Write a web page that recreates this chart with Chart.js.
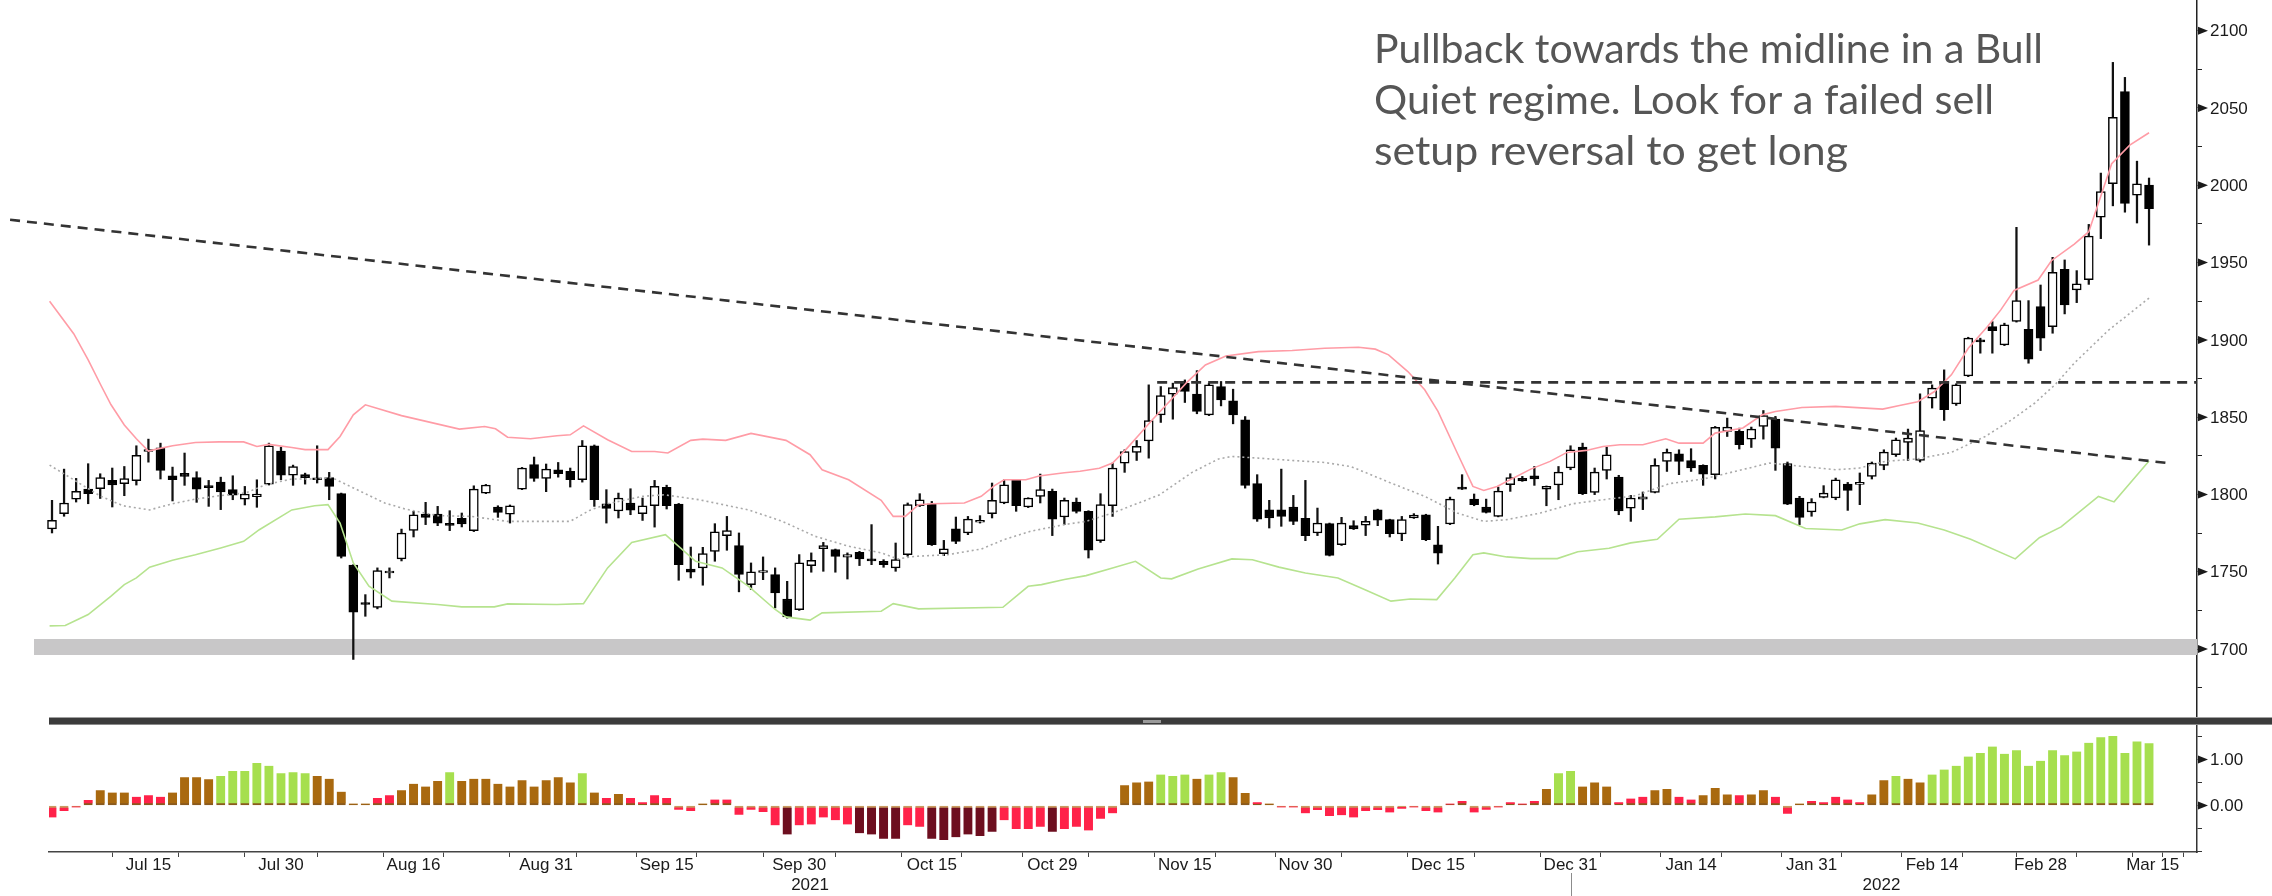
<!DOCTYPE html>
<html>
<head>
<meta charset="utf-8">
<script src="https://cdn.jsdelivr.net/npm/chart.js@4.4.1/dist/chart.umd.min.js"></script>
<style>
  html, body { margin: 0; padding: 0; background: #fff; }
  #wrap { position: relative; width: 2272px; height: 896px; overflow: hidden; background: #fff; }
  #main { position: absolute; left: 0; top: 0; }
  #osc { position: absolute; left: 0; top: 724px; }
  #sep { position: absolute; left: 49px; top: 717px; width: 2223px; height: 8px; background: #3b3b3b;
         border-top: 1px solid #a0a0a0; border-bottom: 1px solid #8a8a8a; box-sizing: border-box; }
  #grip { position: absolute; left: 1143px; top: 720px; width: 18px; height: 3px; background: #9a9a9a; }
</style>
</head>
<body>
<div id="wrap">
  <canvas id="main" width="2272" height="718"></canvas>
  <canvas id="osc" width="2272" height="172"></canvas>
  <div id="sep"></div>
  <div id="grip"></div>
</div>
<script>
// daily candles, one per trading day (Jul 2021 - Mar 2022)
const opens = [
  1777.7,1787.6,1797.0,1803.5,1803.7,1809.1,1807.0,1808.9,1827.8,1830.2,
  1812.1,1813.6,1811.0,1805.6,1808.0,1803.1,1797.0,1798.5,1806.7,1828.1,
  1812.5,1812.8,1810.4,1811.0,1800.5,1754.4,1729.2,1727.0,1749.2,1758.3,
  1776.8,1787.3,1787.3,1780.5,1784.6,1776.6,1800.9,1791.9,1787.3,1803.5,
  1819.4,1810.4,1816.0,1814.9,1809.5,1831.5,1794.0,1789.3,1794.5,1787.6,
  1792.7,1804.6,1793.8,1751.8,1752.5,1763.2,1773.4,1766.9,1741.7,1749.5,
  1748.2,1732.4,1725.5,1754.0,1764.9,1764.3,1759.4,1762.6,1757.4,1756.8,
  1752.5,1761.1,1792.7,1794.0,1761.7,1777.7,1775.1,1782.0,1787.6,1794.5,
  1809.1,1791.9,1798.8,1802.0,1785.4,1795.1,1789.1,1770.1,1792.7,1820.3,
  1827.2,1834.7,1851.5,1864.9,1872.0,1864.9,1851.5,1869.8,1860.6,1848.3,
  1807.0,1790.1,1790.1,1791.9,1784.6,1775.1,1781.1,1767.5,1779.8,1780.2,
  1790.1,1783.7,1774.4,1784.8,1786.9,1767.5,1780.9,1804.4,1797.0,1791.9,
  1785.8,1806.3,1810.4,1812.1,1803.5,1806.1,1817.1,1830.6,1801.4,1815.6,
  1811.3,1791.2,1797.0,1801.4,1821.4,1826.3,1822.0,1818.8,1812.8,1840.8,
  1840.8,1835.8,1844.0,1848.7,1819.9,1797.7,1788.7,1798.1,1797.7,1806.7,
  1806.5,1811.7,1818.8,1825.7,1833.7,1822.0,1862.3,1873.1,1858.6,1876.7,
  1899.5,1908.6,1896.8,1912.0,1906.9,1921.5,1908.6,1945.6,1932.3,1938.9,
  1979.3,2001.0,2060.6,1993.6,2000.1
];
const highs = [
  1796.2,1816.4,1810.4,1819.9,1813.4,1817.1,1818.1,1831.5,1835.8,1833.2,
  1817.7,1826.8,1814.7,1809.1,1811.2,1812.1,1805.2,1809.5,1833.2,1830.6,
  1819.0,1813.8,1831.5,1814.3,1800.9,1754.6,1735.2,1752.5,1752.5,1777.6,
  1789.1,1794.9,1792.3,1789.5,1788.0,1805.6,1806.5,1792.7,1793.2,1817.5,
  1824.2,1819.7,1820.7,1817.1,1834.9,1832.0,1803.1,1800.9,1803.7,1797.7,
  1809.1,1806.0,1794.2,1766.0,1765.8,1781.1,1785.8,1775.1,1755.7,1759.6,
  1752.5,1743.8,1761.1,1762.2,1769.0,1764.7,1762.2,1763.2,1780.5,1757.8,
  1768.6,1794.5,1800.5,1795.5,1770.3,1785.4,1785.8,1786.3,1807.4,1809.5,
  1809.5,1797.9,1813.2,1803.5,1797.7,1797.7,1789.5,1800.5,1820.3,1828.9,
  1834.9,1870.9,1869.8,1872.0,1874.1,1880.1,1872.0,1873.1,1868.1,1850.4,
  1812.8,1796.2,1816.4,1799.4,1809.1,1791.2,1781.5,1785.2,1783.0,1785.8,
  1790.5,1784.0,1785.8,1787.6,1787.2,1779.4,1798.3,1812.8,1800.3,1797.0,
  1804.8,1813.4,1811.7,1818.1,1805.5,1818.1,1831.5,1833.2,1817.1,1830.6,
  1812.4,1799.4,1801.6,1823.1,1829.4,1828.9,1829.6,1819.2,1844.0,1849.4,
  1842.9,1843.6,1854.3,1850.5,1821.0,1798.8,1797.3,1805.7,1810.6,1807.8,
  1813.9,1821.0,1828.9,1836.5,1842.3,1865.1,1870.9,1880.6,1871.6,1901.7,
  1901.1,1911.8,1910.8,1972.8,1925.4,1935.5,1953.4,1951.7,1944.8,1974.7,
  2007.9,2079.5,2069.8,2015.6,2004.7
];
const lows = [
  1775.1,1785.9,1795.1,1794.0,1797.4,1791.9,1799.2,1806.1,1820.9,1810.0,
  1795.8,1805.9,1794.9,1792.3,1790.2,1796.6,1793.2,1791.7,1806.1,1809.5,
  1805.9,1806.7,1807.4,1796.6,1758.9,1693.3,1721.2,1726.0,1746.0,1757.0,
  1772.5,1780.5,1779.8,1776.6,1779.0,1776.0,1800.5,1785.2,1781.5,1803.1,
  1808.5,1801.8,1811.2,1804.8,1808.0,1792.3,1781.5,1784.8,1786.9,1783.2,
  1778.9,1790.6,1744.5,1746.0,1741.3,1756.8,1763.9,1737.0,1738.5,1744.9,
  1726.6,1720.0,1725.0,1749.7,1750.3,1749.7,1745.3,1754.0,1754.6,1752.9,
  1750.3,1760.0,1792.2,1767.0,1760.4,1768.2,1774.0,1781.5,1784.8,1794.0,
  1789.1,1791.5,1794.5,1773.4,1780.5,1788.0,1758.9,1769.0,1785.8,1814.3,
  1822.0,1823.5,1846.6,1848.7,1859.5,1852.2,1851.0,1857.3,1845.7,1804.1,
  1782.6,1778.3,1779.4,1780.5,1770.1,1773.4,1760.2,1767.0,1777.3,1773.4,
  1779.8,1772.5,1770.1,1784.5,1770.1,1755.0,1780.5,1803.2,1792.7,1788.0,
  1785.5,1802.0,1808.5,1805.9,1792.7,1796.6,1816.0,1799.9,1799.9,1810.0,
  1786.9,1782.6,1790.2,1801.0,1814.9,1812.8,1814.9,1805.9,1810.0,1837.5,
  1829.4,1830.4,1835.8,1815.6,1793.4,1780.5,1785.9,1797.8,1796.6,1789.7,
  1793.4,1810.0,1816.0,1824.6,1822.0,1821.0,1855.9,1847.9,1857.6,1876.2,
  1891.4,1891.4,1896.3,1911.5,1884.9,1893.1,1904.3,1916.8,1924.1,1935.9,
  1965.5,1986.7,1982.6,1975.6,1961.3
];
const closes = [
  1783.3,1794.5,1802.0,1800.5,1811.0,1806.1,1810.2,1825.3,1828.9,1815.6,
  1809.5,1811.7,1803.5,1804.4,1801.6,1799.6,1800.3,1800.3,1831.5,1812.5,
  1818.1,1810.8,1809.5,1805.2,1760.0,1723.8,1728.8,1750.7,1749.7,1775.1,
  1786.9,1785.2,1781.5,1780.0,1780.9,1803.5,1806.1,1788.4,1792.7,1817.1,
  1810.4,1816.4,1813.4,1809.5,1831.5,1796.6,1791.0,1797.7,1789.9,1792.7,
  1805.2,1792.7,1754.6,1749.7,1761.7,1775.9,1776.6,1748.2,1749.9,1750.0,
  1736.3,1720.8,1755.7,1757.4,1766.9,1760.0,1761.1,1758.3,1757.0,1754.6,
  1757.8,1793.4,1796.6,1767.5,1764.9,1769.7,1784.1,1782.3,1796.2,1806.3,
  1792.7,1797.7,1803.1,1784.1,1796.2,1789.1,1763.9,1793.4,1817.1,1827.8,
  1831.1,1847.8,1864.0,1869.2,1866.6,1853.7,1870.9,1861.2,1851.5,1805.9,
  1784.1,1784.8,1785.8,1782.6,1773.4,1781.5,1760.6,1781.5,1777.7,1782.6,
  1783.3,1774.6,1783.7,1786.7,1770.8,1762.1,1797.0,1803.5,1793.4,1788.4,
  1802.2,1811.0,1808.7,1810.0,1805.2,1814.5,1828.9,1800.5,1814.5,1825.7,
  1789.3,1797.7,1798.4,1818.8,1827.2,1821.4,1817.1,1813.2,1843.4,1843.6,
  1832.2,1842.3,1851.1,1830.0,1793.8,1785.2,1795.1,1800.9,1809.5,1802.6,
  1806.9,1820.3,1827.4,1835.4,1836.5,1841.4,1868.8,1854.8,1870.9,1901.1,
  1898.7,1906.0,1909.7,1925.4,1887.5,1901.1,1943.7,1922.6,1936.2,1967.1,
  1995.9,2043.9,1988.3,2001.0,1984.9
];

// Bollinger bands: [bar, value]
const upperBand = [
  [0.8,1925],[2.8,1904],[4,1887],[5.1,1870],[5.9,1858],[7,1845],[8,1836],[9,1828],[9.5,1829],
  [11,1831.5],[12.9,1833.6],[14.9,1834],[16.9,1834],[18,1831],[19,1832.4],[20.9,1830.4],[22,1829],
  [23.9,1829],[24.9,1837.5],[26,1851.5],[27,1858],[30,1851],[34.8,1842.3],[36.9,1844],[37.8,1842.5],
  [38.8,1837],[40.7,1836],[42.9,1838],[44,1838.6],[45.1,1844.4],[47.1,1835.4],[49.1,1827.8],
  [51,1827.8],[52.1,1826.8],[54,1835],[55,1835.8],[56.9,1835],[59,1839.5],[61.9,1835],[63.9,1825.7],
  [64.9,1816],[67.1,1809.5],[69.8,1796.2],[70.8,1785.8],[71.8,1785.8],[72.9,1793.4],[74,1794],
  [76.7,1794.5],[78.1,1798.8],[79.2,1805.7],[80,1809.5],[81.8,1809.5],[82.9,1812],[85,1814],
  [86.3,1815],[87.9,1817],[89,1820.3],[90.1,1829],[91.2,1838.6],[92.3,1848.3],[93.7,1860],
  [95.1,1872],[96.7,1883.8],[98.4,1889.6],[101.1,1892.4],[103.9,1893.1],[106.6,1894.6],
  [109.4,1895.2],[110.8,1894],[111.9,1890.3],[113.5,1879.5],[114.9,1867.7],[116,1853.7],
  [117.6,1826.8],[118.9,1805.2],[119.8,1802.6],[120.9,1805.2],[123.7,1816.4],[125.3,1821.4],
  [126.7,1827.2],[128.3,1828.5],[129.7,1831],[131.1,1832.2],[133,1832.2],[134.9,1836],[136,1833.2],
  [138,1833.2],[139,1839.7],[141.3,1843],[142.9,1851.5],[144,1853.7],[146.2,1856.3],[149,1857],
  [152.9,1855.2],[154.2,1857.4],[155.8,1860],[157.2,1866.6],[158.6,1877.4],[160,1894.6],
  [161.6,1908.6],[162.7,1919.4],[163.8,1932],[165.8,1938.7],[166.9,1951.2],[168.8,1962],
  [170,1970],[171,1993],[171.9,2014],[173.4,2026],[175,2034]
];
const midBand = [
  [0.8,1819],[2.8,1809.5],[5,1799],[6.9,1792.7],[9.1,1790],[11,1794],[12.9,1797],[14.9,1799.2],
  [17.1,1801],[18.7,1806.3],[20.9,1810],[22.8,1810],[24.2,1811],[26.2,1803.5],[28.6,1794.5],
  [30.3,1790.6],[33,1786.3],[35.8,1785.8],[38.8,1782.6],[42.9,1782.6],[44,1782.6],[45.6,1789.7],
  [47.1,1794],[50,1798.8],[51.8,1799.8],[54.7,1796.6],[58.8,1790],[61.6,1782.6],[64.3,1773],
  [67.1,1766.5],[69.8,1762.2],[71.2,1758.3],[72.6,1760],[75.3,1761],[78.1,1764.7],[80,1770.8],
  [82.2,1776.2],[85,1780.5],[86.8,1782.6],[89,1788],[91.5,1795.5],[92.9,1799.8],[95.6,1814.3],
  [97.8,1823],[98.9,1824.6],[101.1,1823.5],[103.9,1822],[106.6,1820.7],[108.8,1818],[112.1,1807.4],
  [114.9,1798.8],[117.6,1788],[119.8,1782.6],[121.7,1783.7],[124.5,1788],[127.2,1794],
  [129.7,1796.6],[132.4,1799.2],[135.2,1807],[138,1810],[140.7,1815],[143.5,1820.3],[146.2,1818.2],
  [149,1816],[150.9,1817],[153.1,1821.4],[155.8,1823],[158.6,1827.2],[161.4,1837.5],[163.6,1848.3],
  [165.5,1859],[167.2,1871],[168.8,1885],[171.6,1906],[175,1927]
];
const lowerBand = [
  [0.8,1715],[2.1,1715.2],[4,1722.3],[5.9,1734.2],[7,1741.7],[8,1746],[9.1,1753],[11,1757.4],
  [12.9,1761],[15,1765.4],[16.9,1769.7],[18.2,1777.2],[20.9,1790],[22.8,1792.7],[23.9,1793.4],
  [24.9,1781.5],[26,1755.7],[27.3,1740.6],[29.2,1731],[33,1728.8],[35,1727.3],[37.7,1727.3],
  [38.8,1729.2],[42.9,1728.8],[45.1,1729.4],[47.1,1752.5],[49.1,1769],[51.9,1774],[54.4,1756.8],
  [56.6,1752.5],[58.8,1740.6],[61,1725.6],[61.9,1720.8],[63.9,1718.7],[64.9,1723.4],[69.8,1724.5],
  [70.8,1729.4],[72.9,1726],[79.9,1727],[82,1740.6],[83.1,1741.7],[85,1745],[86.8,1747.5],
  [89,1752.5],[90.9,1756.8],[93,1746],[93.9,1745.4],[96.1,1751.8],[98.9,1758.3],[100.6,1757.8],
  [102.8,1753],[105,1749.2],[107.7,1746],[109.9,1738.5],[112.1,1731],[113.7,1732.4],[115.9,1732],
  [117.4,1746],[118.9,1761],[119.8,1762.2],[121.7,1759.6],[123.7,1758.5],[125.9,1758.5],
  [127.6,1763],[130.2,1765.2],[132,1768.7],[134.2,1771],[136,1784],[139,1785.5],[141.5,1787.4],
  [144,1786.3],[146.5,1778],[149.5,1777],[151,1781],[153.1,1783.7],[155.8,1781.5],[158,1777],
  [160.2,1771],[163.9,1758.3],[165.9,1772],[167.7,1779],[170.8,1798.7],[172.1,1795.2],[175,1821.7]
];

// drawn levels: falling trendline, breakout level, support zone
const trendLine = [[-2.48,1977.7],[176.9,1820.0]];
const breakoutLine = [[92.7,1872.5],[179,1872.5]];
const supportZone = { from: -0.5, to: 179, low: 1696.2, high: 1706.5 };

// lower panel oscillator
const oscValues = [
  -0.26,-0.12,-0.04,0.12,0.33,0.28,0.28,0.19,0.22,0.19,
  0.28,0.61,0.61,0.57,0.64,0.75,0.75,0.92,0.86,0.70,
  0.72,0.70,0.64,0.58,0.30,0.02,0.02,0.16,0.22,0.33,
  0.47,0.41,0.53,0.72,0.53,0.58,0.58,0.47,0.41,0.55,
  0.41,0.55,0.61,0.50,0.70,0.28,0.16,0.25,0.16,0.07,
  0.22,0.16,-0.09,-0.12,0.03,0.13,0.13,-0.20,-0.09,-0.14,
  -0.43,-0.63,-0.43,-0.41,-0.26,-0.32,-0.41,-0.60,-0.63,-0.72,
  -0.72,-0.43,-0.46,-0.72,-0.75,-0.69,-0.63,-0.66,-0.57,-0.32,
  -0.51,-0.51,-0.46,-0.57,-0.51,-0.46,-0.54,-0.29,-0.17,0.44,
  0.50,0.52,0.67,0.64,0.67,0.58,0.67,0.72,0.61,0.27,
  0.07,0.01,-0.04,-0.04,-0.17,-0.10,-0.23,-0.21,-0.26,-0.12,
  -0.10,-0.15,-0.07,-0.04,-0.12,-0.15,0.04,0.10,-0.15,-0.09,
  -0.04,0.07,0.04,0.10,0.36,0.70,0.75,0.41,0.50,0.41,
  0.07,0.15,0.19,0.33,0.36,0.19,0.13,0.22,0.38,0.24,
  0.22,0.24,0.33,0.19,-0.18,0.01,0.10,0.07,0.19,0.13,
  0.07,0.24,0.55,0.64,0.58,0.50,0.67,0.78,0.86,1.06,
  1.14,1.28,1.12,1.20,0.86,0.97,1.20,1.09,1.17,1.36,
  1.48,1.51,1.14,1.39,1.35
];
// g = strong up, b = up, r = down, d = strong down
const oscColorKeys = ('rrrr bbb rrr bbbb gggggggg bbbbb rr bbbb g bbbbbbbbbb g b r b rrrrrr b rrrrrr d rrrrr dddd rr dddddd rrrr d rrrrr ' +
  'bbb ggg b gg bb r b rrrrrrrrrrrrrrrrrrrrrr b gg bbb rrr bb rr bbb r bb rr b rrrrr bb g bb ggggggggggggggggggg')
  .replace(/ /g, '').split('');
const oscPalette = { g: '#a6df4e', b: '#a9690f', r: '#ff2249', d: '#6d0e1f' };

// axis ticks and labels
const priceTicks = [1675,1700,1725,1750,1775,1800,1825,1850,1875,1900,1925,1950,1975,2000,2025,2050,2075,2100];
const priceLabels = [1700,1750,1800,1850,1900,1950,2000,2050,2100];
const oscTicks = [-1,-0.5,0,0.5,1,1.5];
const oscLabels = [0, 1];
const dateTickBars = [3,14,26,36,47,57,69,79,90,100,111,122,132,142,152,162,172,177];
const dateLabels = ['Jul 15','Jul 30','Aug 16','Aug 31','Sep 15','Sep 30','Oct 15','Oct 29','Nov 15',
  'Nov 30','Dec 15','Dec 31','Jan 14','Jan 31','Feb 14','Feb 28','Mar 15'];
const dateLabelBars = [9,20,31,42,52,63,74,84,95,105,116,127,137,147,157,166,175.3];
const yearLabels = ['2021','2022'];
const yearLabelBars = [63.9,152.8];
const yearBreakBar = 127;

const noteLines = ['Pullback towards the midline in a Bull', 'Quiet regime. Look for a failed sell', 'setup reversal to get long'];

const axisFont = '17px "Liberation Sans", Arial, sans-serif';
const pairs = arr => arr.map(p => ({ x: p[0], y: p[1] }));

function arrowLabel(ctx, x, y, text) {
  ctx.beginPath();
  ctx.moveTo(x + 1, y - 4);
  ctx.lineTo(x + 11, y);
  ctx.lineTo(x + 1, y + 4);
  ctx.closePath();
  ctx.fill();
  ctx.fillText(text, x + 13, y + 1);
}

const mainDecor = {
  id: 'mainDecor',
  afterDraw(chart) {
    const { ctx, chartArea } = chart;
    const ys = chart.scales.y;
    ctx.save();
    ctx.fillStyle = '#1a1a1a';
    ctx.font = axisFont;
    ctx.textBaseline = 'middle';
    ctx.textAlign = 'left';
    priceLabels.forEach(v => arrowLabel(ctx, chartArea.right, ys.getPixelForValue(v), String(v)));

    // handwritten note
    ctx.fillStyle = '#565656';
    ctx.font = '40px Lato, "Open Sans", sans-serif';
    ctx.textBaseline = 'alphabetic';
    const widths = [669, 620, 474];
    const baselines = [63, 114, 165];
    noteLines.forEach((t, i) => {
      const w = ctx.measureText(t).width;
      ctx.save();
      ctx.translate(1374, baselines[i]);
      ctx.scale(widths[i] / w, 1);
      ctx.fillText(t, 0, 0);
      ctx.restore();
    });
    ctx.restore();
  }
};

const oscDecor = {
  id: 'oscDecor',
  afterDraw(chart) {
    const { ctx, chartArea } = chart;
    const xs = chart.scales.x, ys = chart.scales.y;
    ctx.save();
    ctx.fillStyle = '#1a1a1a';
    ctx.font = axisFont;
    ctx.textBaseline = 'middle';
    ctx.textAlign = 'left';
    oscLabels.forEach(v => arrowLabel(ctx, chartArea.right, ys.getPixelForValue(v), v.toFixed(2)));

    ctx.textAlign = 'center';
    dateLabels.forEach((t, i) => ctx.fillText(t, xs.getPixelForValue(dateLabelBars[i]), 141));
    yearLabels.forEach((t, i) => ctx.fillText(t, xs.getPixelForValue(yearLabelBars[i]), 161));

    const bx = Math.round(xs.getPixelForValue(yearBreakBar)) + 0.5;
    ctx.strokeStyle = '#8c8c8c';
    ctx.lineWidth = 1;
    ctx.beginPath();
    ctx.moveTo(bx, 149);
    ctx.lineTo(bx, 172);
    ctx.stroke();
    ctx.restore();
  }
};

const barIdx = opens.map((_, i) => i + 1);

new Chart(document.getElementById('main'), {
  type: 'bar',
  data: {
    datasets: [
      {
        type: 'line', order: 9,
        data: [{ x: supportZone.from, y: supportZone.high }, { x: supportZone.to, y: supportZone.high }],
        borderWidth: 0, pointRadius: 0, backgroundColor: '#c8c7c8',
        fill: { value: supportZone.low }
      },
      {
        order: 8, grouped: false,
        data: barIdx.map((x, i) => ({ x, y: [lows[i], highs[i]] })),
        backgroundColor: '#111', barThickness: 1.6, borderWidth: 0, minBarLength: 1
      },
      {
        order: 7, grouped: false,
        data: barIdx.map((x, i) => ({ x, y: [opens[i], closes[i]] })),
        backgroundColor: barIdx.map((x, i) => closes[i] >= opens[i] ? '#ffffff' : '#000000'),
        borderColor: '#000', borderWidth: 1.5, borderSkipped: false,
        barThickness: 9, minBarLength: 2
      },
      {
        type: 'line', order: 4, data: pairs(lowerBand),
        borderColor: '#b6e38f', borderWidth: 1.6, pointRadius: 0, tension: 0, fill: false
      },
      {
        type: 'line', order: 3, data: pairs(midBand),
        borderColor: '#a9a9a9', borderWidth: 1.6, borderDash: [2, 3], pointRadius: 0, tension: 0, fill: false
      },
      {
        type: 'line', order: 2, data: pairs(upperBand),
        borderColor: '#ff9ca6', borderWidth: 1.6, pointRadius: 0, tension: 0, fill: false
      },
      {
        type: 'line', order: 1, data: pairs(trendLine),
        borderColor: '#333', borderWidth: 2.6, borderDash: [10, 7], pointRadius: 0, fill: false
      },
      {
        type: 'line', order: 1, data: pairs(breakoutLine),
        borderColor: '#333', borderWidth: 2.6, borderDash: [10, 7], pointRadius: 0, fill: false
      }
    ]
  },
  options: {
    responsive: false,
    animation: false,
    devicePixelRatio: 1,
    layout: { padding: 0 },
    plugins: { legend: { display: false }, tooltip: { enabled: false } },
    scales: {
      x: { type: 'linear', display: false, offset: false, min: -3.315, max: 178.98 },
      y: {
        type: 'linear', position: 'right', min: 1655.4, max: 2119.86,
        ticks: { display: false },
        grid: { drawOnChartArea: false, drawTicks: true, tickLength: 5, color: '#222' },
        border: { display: true, color: '#222', width: 1.5 },
        afterBuildTicks: s => { s.ticks = priceTicks.map(v => ({ value: v })); },
        afterFit: s => { s.width = 75; }
      }
    }
  },
  plugins: [mainDecor]
});

new Chart(document.getElementById('osc'), {
  type: 'bar',
  data: {
    datasets: [{
      data: barIdx.map((x, i) => ({ x, y: oscValues[i] })),
      backgroundColor: oscColorKeys.map(k => oscPalette[k]),
      // thin tan seam along the zero line on every column
      borderColor: oscValues.map(v => v >= 0 ? '#8a5a1e' : '#c89a60'),
      borderWidth: ctx => (ctx.raw && ctx.raw.y < 0)
        ? { top: 2, right: 0, bottom: 0, left: 0 }
        : { top: 0, right: 0, bottom: 2, left: 0 },
      borderSkipped: false,
      barThickness: 9, minBarLength: 2
    }]
  },
  options: {
    responsive: false,
    animation: false,
    devicePixelRatio: 1,
    layout: { padding: { left: 49, top: 1, right: 0, bottom: 38 } },
    plugins: { legend: { display: false }, tooltip: { enabled: false } },
    scales: {
      x: {
        type: 'linear', offset: false, min: 0.751, max: 178.98,
        ticks: { display: false },
        grid: { drawOnChartArea: false, drawTicks: true, tickLength: 5, color: '#444' },
        border: { display: true, color: '#444', width: 1.5 },
        afterBuildTicks: s => {
          s.ticks = dateTickBars.concat(dateLabelBars).sort((a, b) => a - b).map(v => ({ value: v }));
        },
        afterFit: s => { s.height = 6; }
      },
      y: {
        type: 'linear', position: 'right', min: -1.009, max: 1.746,
        ticks: { display: false },
        grid: { drawOnChartArea: false, drawTicks: true, tickLength: 5, color: '#333' },
        border: { display: true, color: '#333', width: 1.5 },
        afterBuildTicks: s => { s.ticks = oscTicks.map(v => ({ value: v })); },
        afterFit: s => { s.width = 75; }
      }
    }
  },
  plugins: [oscDecor]
});
</script>
</body>
</html>
